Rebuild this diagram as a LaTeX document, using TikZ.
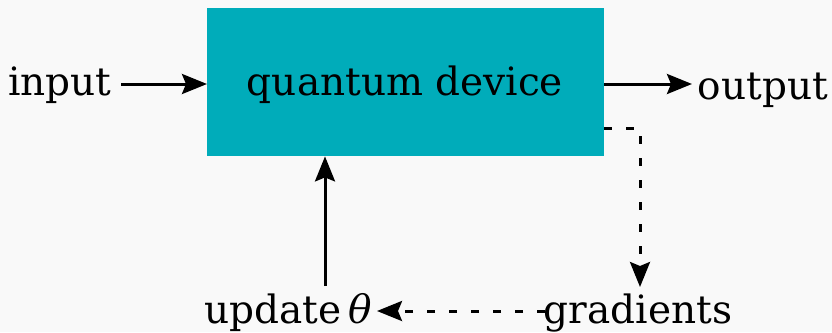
\documentclass[tikz,border=0pt]{standalone}
\usepackage{fontspec}
\setmainfont{DejaVu Serif}
\usetikzlibrary{arrows.meta}
\definecolor{bg}{HTML}{F9F9F9}
\definecolor{teal}{HTML}{00ACBA}
\begin{document}
\begin{tikzpicture}[x=1pt,y=-1pt,
  lbl/.style={font=\fontsize{39}{41}\selectfont, inner sep=0pt, anchor=base},
  conn/.style={line width=3pt, -{Stealth[length=25pt,width=20pt,inset=4pt]}},
  dotconn/.style={conn, dash pattern=on 8pt off 14pt}]
\fill[bg] (0,0) rectangle (832,332);
\useasboundingbox (0,0) rectangle (832,332);
\node[fill=teal, minimum width=397pt, minimum height=148pt, inner sep=0pt, anchor=north west] (qd) at (207,8) {};
\node[lbl] (qdt) at (405,95) {quantum device};
\node[lbl] (in) at (60,95) {input};
\node[lbl] (out) at (763,99) {output};
\node[lbl] (grad) at (638,323) {gradients};
\node[lbl] (upd) at (288,323) {update\,\textit{θ}};
\coordinate (inE) at (121,84);
\coordinate (outW) at (692,84);
\coordinate (c1) at (604,128);
\coordinate (c2) at (640,128);
\coordinate (c3) at (640,287);
\coordinate (g1) at (545,311);
\coordinate (u1) at (377,311);
\coordinate (u2) at (325,286);
\draw[conn] (inE) -- (qd.west |- inE);
\draw[conn] (qd.east |- outW) -- (outW);
\draw[dotconn] (c1) -- (c2) -- (c3);
\draw[dotconn] (g1) -- (u1);
\draw[conn] (u2) -- (u2 |- qd.south);
\end{tikzpicture}
\end{document}
